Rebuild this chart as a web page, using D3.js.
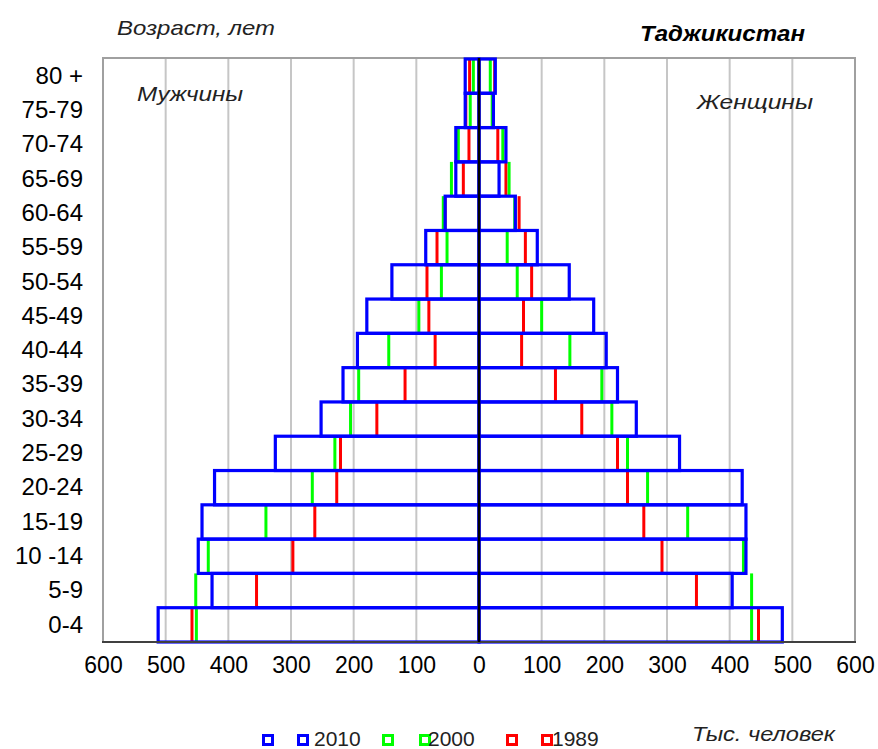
<!DOCTYPE html>
<html>
<head>
<meta charset="utf-8">
<script src="https://cdn.jsdelivr.net/npm/d3@7"></script>
<style>
  html, body { margin: 0; padding: 0; background: #fff; }
  svg { display: block; font-family: "Liberation Sans", Arial, sans-serif; }
</style>
</head>
<body>
<svg id="chart" width="878" height="749"></svg>
<script>
// Age groups, top to bottom
const ageGroups = ["80 +","75-79","70-74","65-69","60-64","55-59","50-54","45-49","40-44","35-39","30-34","25-29","20-24","15-19","10 -14","5-9","0-4"];

// Men, thousands
const male2010 = [22, 22, 37, 37, 54, 85, 139, 179, 194, 217, 252, 325, 422, 442, 448, 426, 512];
const male2000 = [9, 14, 33, 44, 57, 51, 60, 96, 144, 192, 205, 230, 266, 340, 432, 452, 451];
const male1989 = [15, 21, 16, 25, 54, 67, 83, 80, 70, 118, 163, 221, 227, 262, 297, 355, 458];

// Women, thousands
const female2010 = [26, 23, 43, 32, 58, 93, 144, 183, 203, 221, 251, 320, 420, 426, 426, 404, 484];
const female2000 = [18, 21, 38, 48, 57, 45, 61, 100, 145, 196, 212, 237, 269, 333, 422, 435, 435];
const female1989 = [25, 22, 30, 43, 64, 74, 84, 71, 68, 122, 164, 221, 237, 263, 292, 347, 446];

const xTicks = [-600, -500, -400, -300, -200, -100, 0, 100, 200, 300, 400, 500, 600];
const legendYears = ["2010", "2000", "1989"];
const colors = { "2010": "#0000ff", "2000": "#00ff00", "1989": "#ff0000" };

const svg = d3.select("#chart");

const x = d3.scaleLinear().domain([-600, 600]).range([103, 855]);
const y = d3.scaleBand().domain(ageGroups).range([59, 642]).padding(0);

const plotTop = 58, plotBottom = 642;

// gridlines
svg.append("g").selectAll("line")
  .data(xTicks.filter(t => t !== 0 && Math.abs(t) !== 600))
  .join("line")
  .attr("x1", d => x(d)).attr("x2", d => x(d))
  .attr("y1", plotTop).attr("y2", plotBottom)
  .attr("stroke", "#c6c6c6").attr("stroke-width", 2);

// plot border
svg.append("rect")
  .attr("x", x(-600)).attr("y", plotTop)
  .attr("width", x(600) - x(-600)).attr("height", plotBottom - plotTop)
  .attr("fill", "none").attr("stroke", "#a0a0a0").attr("stroke-width", 2);

// build rows
const rows = ageGroups.map((g, i) => ({
  g,
  m: { "2010": male2010[i], "2000": male2000[i], "1989": male1989[i] },
  f: { "2010": female2010[i], "2000": female2000[i], "1989": female1989[i] }
}));

// 1989 and 2000 as end-edge markers
["1989", "2000"].forEach(yr => {
  const gEl = svg.append("g");
  rows.forEach(r => {
    [-r.m[yr], r.f[yr]].forEach(v => {
      gEl.append("line")
        .attr("x1", x(v)).attr("x2", x(v))
        .attr("y1", y(r.g)).attr("y2", y(r.g) + y.bandwidth())
        .attr("stroke", colors[yr]).attr("stroke-width", 3);
    });
  });
});

// 2010 outlined bars
const gBlue = svg.append("g");
rows.forEach(r => {
  gBlue.append("rect")
    .attr("x", x(-r.m["2010"])).attr("y", y(r.g))
    .attr("width", x(0) - x(-r.m["2010"])).attr("height", y.bandwidth())
    .attr("fill", "none").attr("stroke", colors["2010"]).attr("stroke-width", 3.2);
  gBlue.append("rect")
    .attr("x", x(0)).attr("y", y(r.g))
    .attr("width", x(r.f["2010"]) - x(0)).attr("height", y.bandwidth())
    .attr("fill", "none").attr("stroke", colors["2010"]).attr("stroke-width", 3.2);
});

// bottom axis line
svg.append("line")
  .attr("x1", x(-600) - 1).attr("x2", x(600) + 1)
  .attr("y1", plotBottom).attr("y2", plotBottom)
  .attr("stroke", "#404040").attr("stroke-width", 2);

// center line
svg.append("line")
  .attr("x1", x(0)).attr("x2", x(0))
  .attr("y1", plotTop).attr("y2", plotBottom)
  .attr("stroke", "#000").attr("stroke-width", 2.5);

// x axis labels
const xAxis = d3.axisBottom(x).tickValues(xTicks).tickFormat(d => Math.abs(d)).tickSize(0).tickPadding(15);
const gx = svg.append("g").attr("transform", `translate(0,${plotBottom})`).call(xAxis);
gx.select(".domain").remove();
gx.selectAll("text").attr("font-size", 23).attr("fill", "#000").attr("font-family", "Liberation Sans, Arial, sans-serif");

// y axis labels
const yAxis = d3.axisLeft(y).tickSize(0).tickPadding(20);
const gy = svg.append("g").attr("transform", `translate(${x(-600)},0)`).call(yAxis);
gy.select(".domain").remove();
gy.selectAll("text").attr("font-size", 24).attr("fill", "#000").attr("font-family", "Liberation Sans, Arial, sans-serif");

// titles
function label(txt, xx, yy, size, width, opts = {}) {
  return svg.append("text").attr("x", xx).attr("y", yy)
    .attr("font-size", size).attr("font-style", "italic")
    .attr("font-weight", opts.bold ? "bold" : "normal")
    .attr("fill", opts.bold ? "#000" : "#222")
    .attr("textLength", width).attr("lengthAdjust", "spacingAndGlyphs")
    .text(txt);
}
label("Возраст, лет", 117, 35, 21, 158);
label("Таджикистан", 640, 41, 22, 165, { bold: true });
label("Мужчины", 137, 101, 21, 106);
label("Женщины", 697, 109, 21, 116);
label("Тыс. человек", 692, 741, 21, 143);

// legend
const legendPos = [
  { yr: "2010", s1: 268, s2: 303, tx: 314 },
  { yr: "2000", s1: 388, s2: 425, tx: 428 },
  { yr: "1989", s1: 512, s2: 547, tx: 552 }
];
const gl = svg.append("g");
legendPos.forEach(p => {
  [p.s1, p.s2].forEach(cx => {
    gl.append("rect").attr("x", cx - 4.5).attr("y", 735.5).attr("width", 9).attr("height", 9)
      .attr("fill", "#fff").attr("stroke", colors[p.yr]).attr("stroke-width", 3);
  });
  gl.append("text").attr("x", p.tx).attr("y", 746).attr("font-size", 21).attr("fill", "#222").text(p.yr);
});
</script>
</body>
</html>
